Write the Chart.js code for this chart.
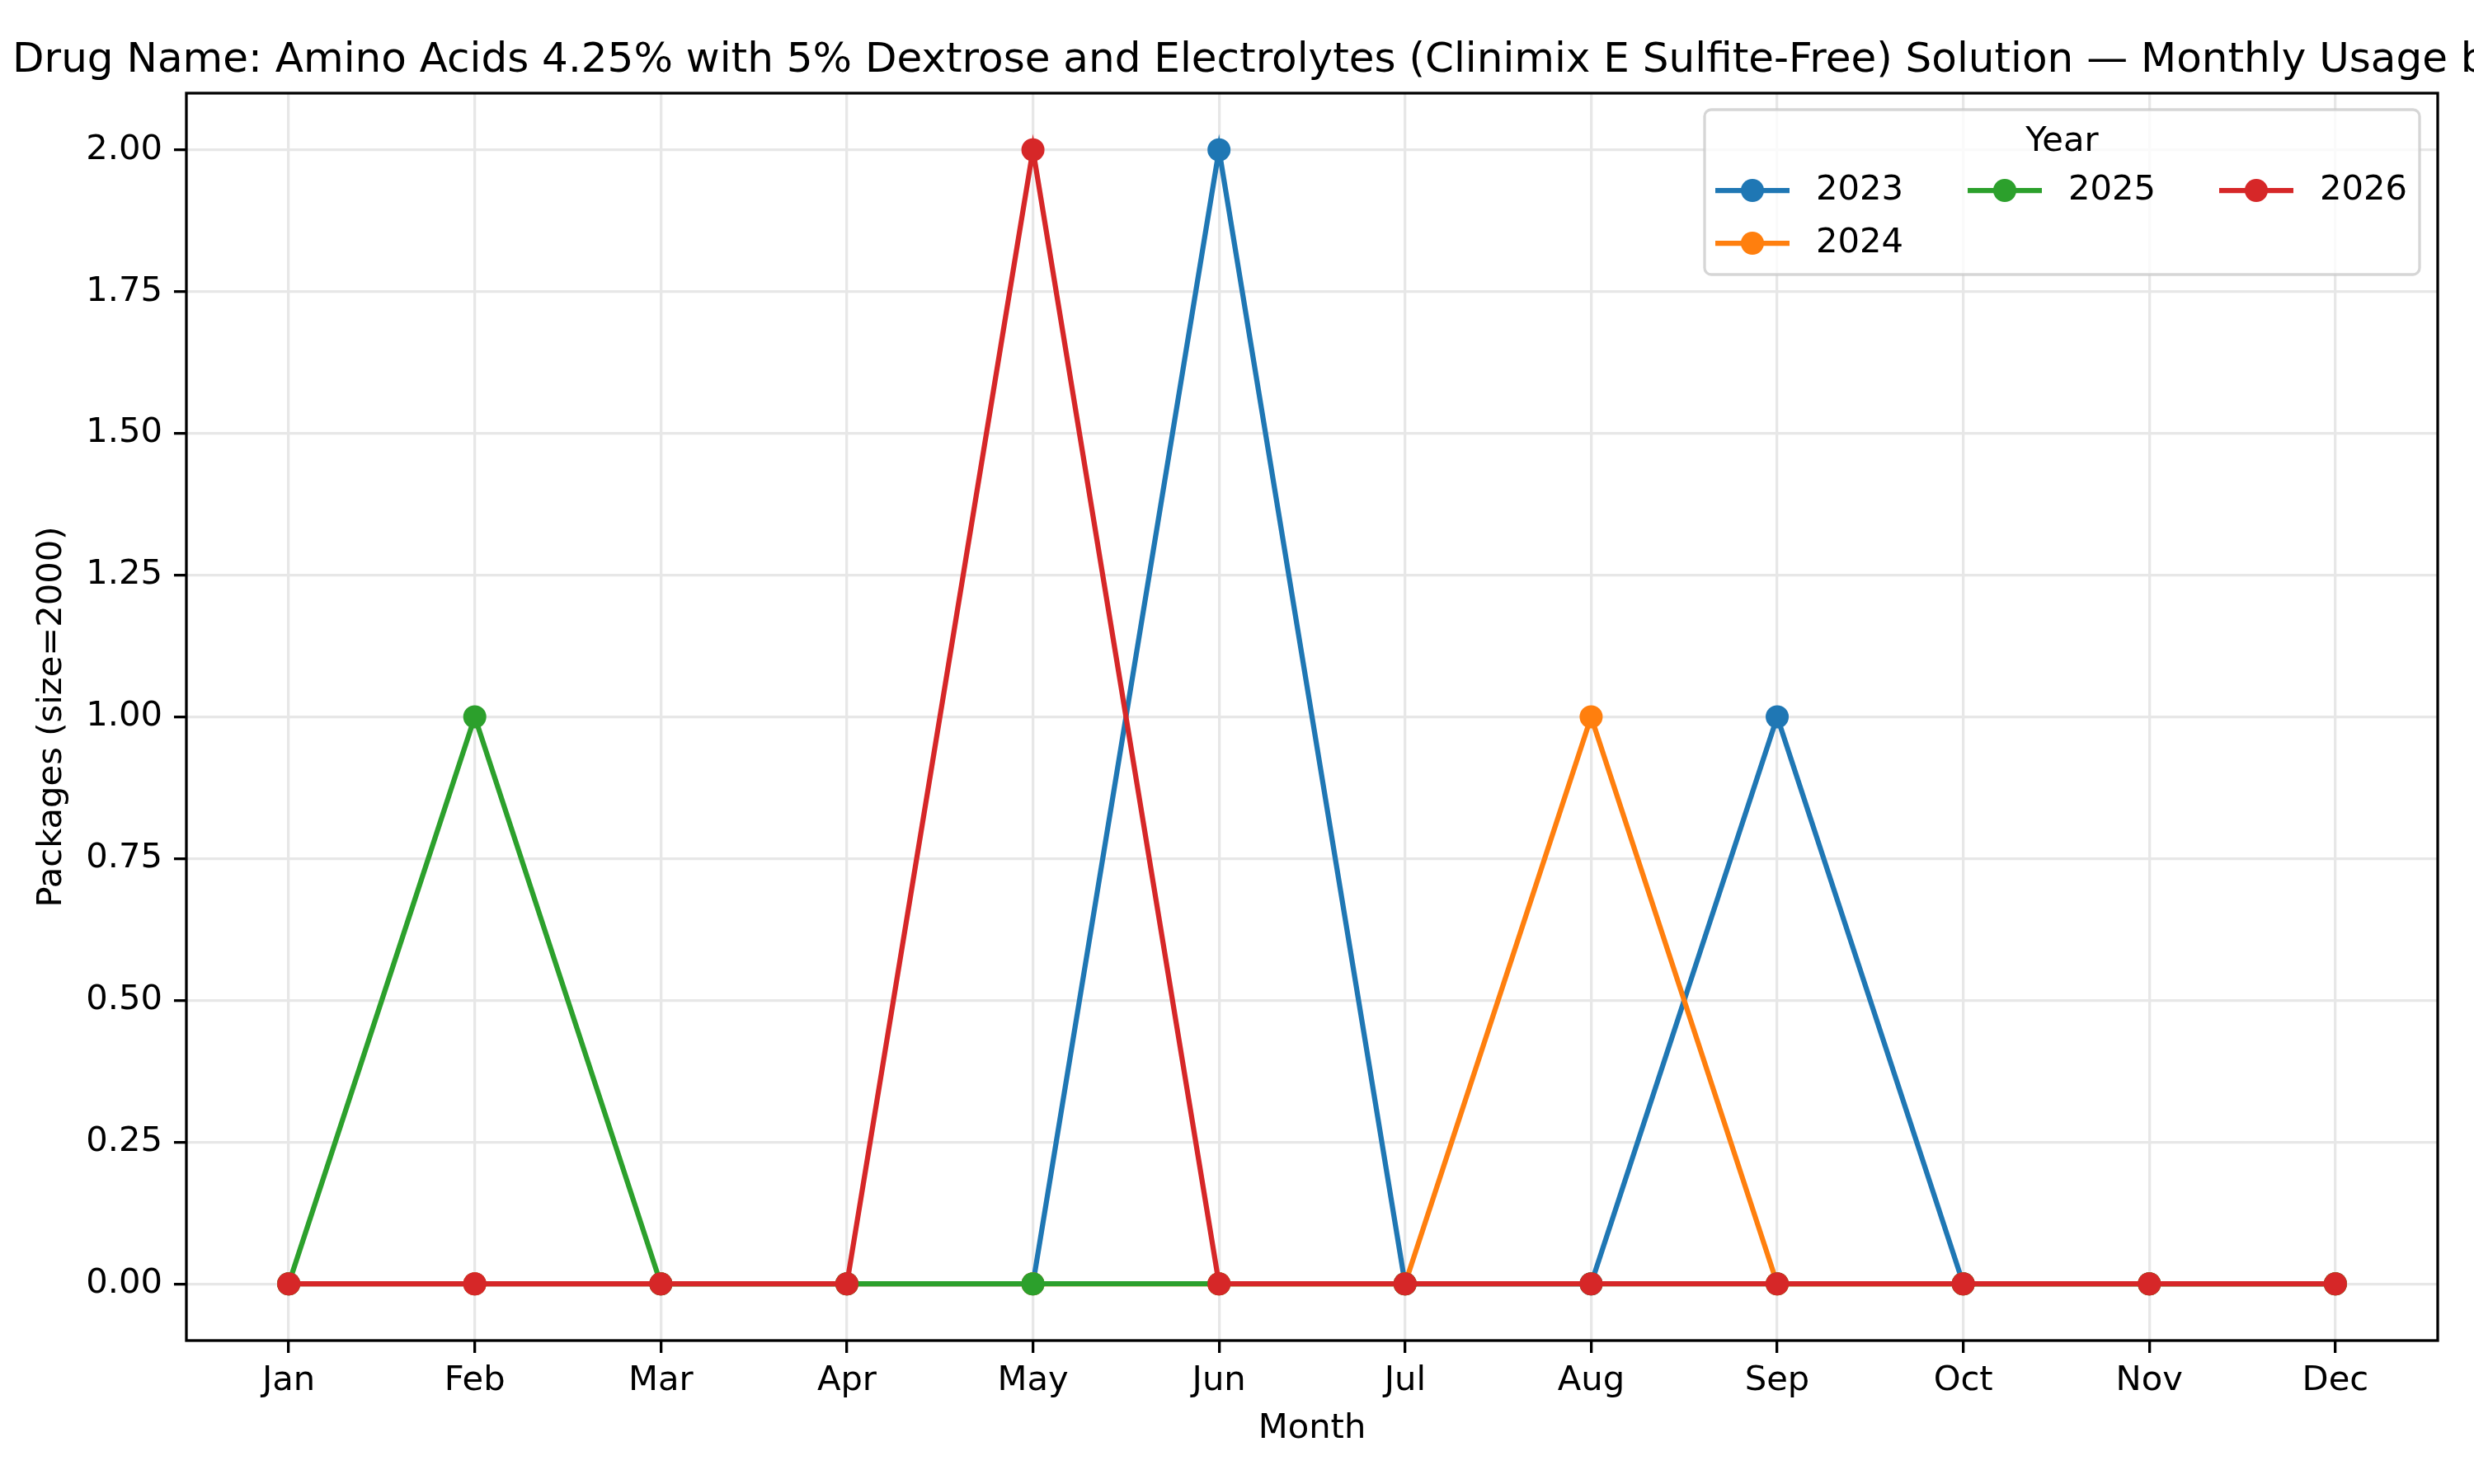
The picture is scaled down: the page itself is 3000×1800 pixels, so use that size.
<!DOCTYPE html>
<html lang="en">
<head>
	<meta charset="UTF-8"/>
	<title>Monthly Usage by Year</title>
	<script src="https://cdn.jsdelivr.net/npm/chart.js"></script>
	<style>
		body {
			margin: 0;
			background: white;
		}
		canvas {
			display: block;
		}
	</style>
</head>
<body>
<canvas id="myChart" width="3000" height="1800"></canvas>

<script>
	const months = ["Jan", "Feb", "Mar", "Apr", "May", "Jun", "Jul", "Aug", "Sep", "Oct", "Nov", "Dec"];
	const years = ["2023", "2024", "2025", "2026"];
	const usage2023 = [0, 0, 0, 0, 0, 2, 0, 0, 1, 0, 0, 0];
	const usage2024 = [0, 0, 0, 0, 0, 0, 0, 1, 0, 0, 0, 0];
	const usage2025 = [0, 1, 0, 0, 0, 0, 0, 0, 0, 0, 0, 0];
	const usage2026 = [0, 0, 0, 0, 2, 0, 0, 0, 0, 0, 0, 0];
	const yTicks = [0, 0.25, 0.5, 0.75, 1, 1.25, 1.5, 1.75, 2];

	const titleText = "Drug Name: Amino Acids 4.25% with 5% Dextrose and Electrolytes (Clinimix E Sulfite-Free) Solution — Monthly Usage by Year";
	const colors = ["#1f77b4", "#ff7f0e", "#2ca02c", "#d62728"];
	const FONT = "DejaVu Sans";

	Chart.defaults.font.family = FONT;
	Chart.defaults.font.size = 41.7;
	Chart.defaults.color = "#000";

	const series = [usage2023, usage2024, usage2025, usage2026];

	const datasets = series.map((vals, i) => ({
		label: years[i],
		data: vals.map((v, m) => ({ x: m, y: v })),
		borderColor: colors[i],
		backgroundColor: colors[i],
		borderWidth: 6.25,
		pointRadius: 14,
		pointBorderWidth: 0,
		pointHoverRadius: 14,
		tension: 0,
		order: series.length - 1 - i
	}));

	// title, frame and legend drawn by hand, matplotlib style
	const extras = {
		id: "extras",
		afterDatasetsDraw(chart) {
			const ctx = chart.ctx;
			const a = chart.chartArea;
			ctx.save();
			ctx.strokeStyle = "#000";
			ctx.lineWidth = 3.3;
			ctx.strokeRect(a.left, a.top, a.right - a.left, a.bottom - a.top);
			ctx.restore();
		},
		afterDraw(chart) {
			const ctx = chart.ctx;
			const a = chart.chartArea;
			ctx.save();

			ctx.font = "50px '" + FONT + "'";
			ctx.fillStyle = "#000";
			ctx.textAlign = "center";
			ctx.textBaseline = "alphabetic";
			ctx.fillText(titleText, (a.left + a.right) / 2, 87);

			// legend box
			const lx = 2067, ly = 133, lw = 867, lh = 200;
			ctx.beginPath();
			ctx.roundRect(lx, ly, lw, lh, 8);
			ctx.fillStyle = "rgba(255,255,255,0.8)";
			ctx.fill();
			ctx.strokeStyle = "rgba(204,204,204,0.8)";
			ctx.lineWidth = 3.3;
			ctx.stroke();

			ctx.font = "41.7px '" + FONT + "'";
			ctx.fillStyle = "#000";
			ctx.textAlign = "center";
			ctx.fillText("Year", lx + lw / 2, 183);

			const colX = [2080, 2386, 2691];
			const rowY = [231, 295];
			chart.data.datasets.forEach((ds, i) => {
				const col = i < 2 ? 0 : i - 1;
				const row = i < 2 ? i : 0;
				const x = colX[col], y = rowY[row];
				ctx.strokeStyle = ds.borderColor;
				ctx.lineWidth = 6.25;
				ctx.beginPath();
				ctx.moveTo(x, y);
				ctx.lineTo(x + 90, y);
				ctx.stroke();
				ctx.fillStyle = ds.borderColor;
				ctx.beginPath();
				ctx.arc(x + 45, y, 14, 0, Math.PI * 2);
				ctx.fill();
				ctx.fillStyle = "#000";
				ctx.textAlign = "left";
				ctx.textBaseline = "middle";
				ctx.fillText(ds.label, x + 122, y);
			});
			ctx.restore();
		}
	};

	const ctx = document.getElementById("myChart").getContext("2d");
	const myChart = new Chart(ctx, {
		type: "line",
		data: { datasets: datasets },
		options: {
			responsive: false,
			animation: false,
			devicePixelRatio: 1,
			layout: { padding: { left: 0, right: 44, top: 113, bottom: 0 } },
			plugins: {
				legend: { display: false },
				title: { display: false },
				tooltip: { enabled: false }
			},
			scales: {
				x: {
					type: "linear",
					min: -0.55,
					max: 11.55,
					afterBuildTicks: (scale) => {
						scale.ticks = months.map((m, i) => ({ value: i }));
					},
					afterFit: (scale) => { scale.height = 174; },
					ticks: {
						callback: (v) => months[v],
						padding: 9,
						maxRotation: 0,
						autoSkip: false
					},
					grid: {
						color: "#e7e7e7",
						lineWidth: 3.3,
						tickColor: "#000",
						tickWidth: 3.3,
						tickLength: 15
					},
					border: { display: false },
					title: {
						display: true,
						text: "Month",
						padding: { top: 0, bottom: 42 }
					}
				},
				y: {
					type: "linear",
					min: -0.1,
					max: 2.1,
					afterBuildTicks: (scale) => {
						scale.ticks = yTicks.map((v) => ({ value: v }));
					},
					afterFit: (scale) => { scale.width = 226; },
					ticks: {
						callback: (v) => v.toFixed(2),
						padding: 14
					},
					grid: {
						color: "#e7e7e7",
						lineWidth: 3.3,
						tickColor: "#000",
						tickWidth: 3.3,
						tickLength: 15
					},
					border: { display: false },
					title: {
						display: true,
						text: "Packages (size=2000)",
						padding: { top: 38, bottom: 0 }
					}
				}
			}
		},
		plugins: [extras]
	});
</script>
</body>
</html>
